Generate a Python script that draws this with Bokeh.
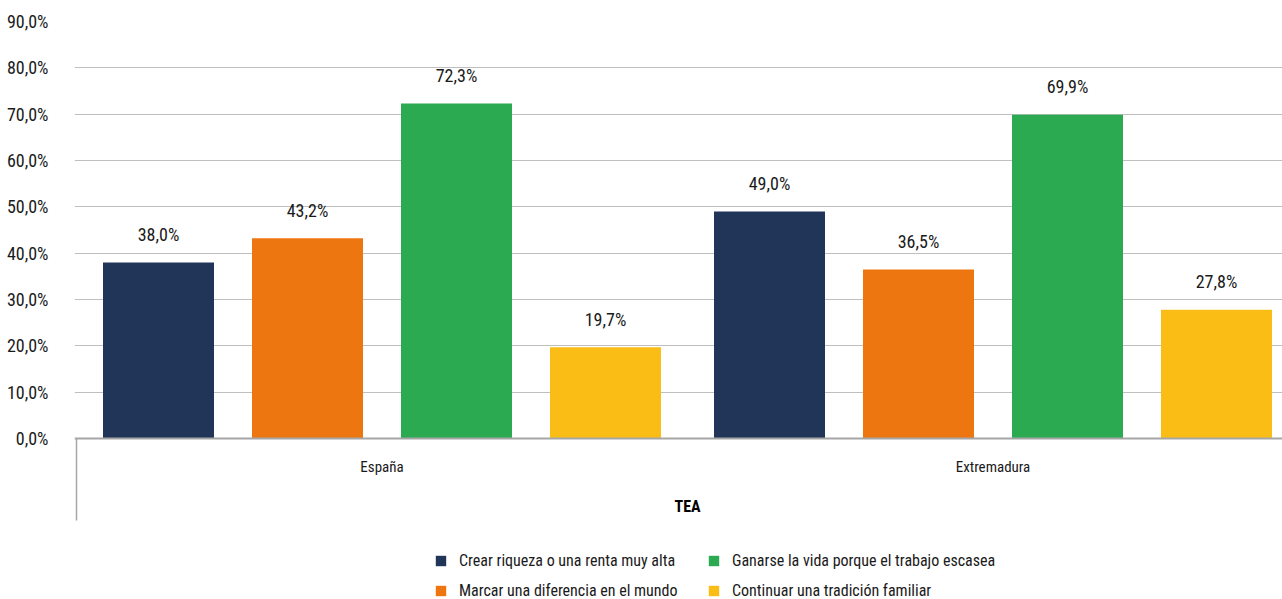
from bokeh.plotting import figure
from bokeh.models import ColumnDataSource, FixedTicker, Span, Legend, LegendItem, Range1d
from bokeh.core.properties import value
from bokeh.embed import file_html
from bokeh.resources import INLINE

# ---------------- data ----------------
regions = ["España", "Extremadura"]
group_label = "TEA"
series_names = [
    "Crear riqueza o una renta muy alta",
    "Marcar una diferencia en el mundo",
    "Ganarse la vida porque el trabajo escasea",
    "Continuar una tradición familiar",
]
crear = [38.0, 49.0]
marcar = [43.2, 36.5]
ganarse = [72.3, 69.9]
continuar = [19.7, 27.8]
y_ticks = [0, 10, 20, 30, 40, 50, 60, 70, 80, 90]
y_tick_labels = ["0,0%", "10,0%", "20,0%", "30,0%", "40,0%", "50,0%",
                 "60,0%", "70,0%", "80,0%", "90,0%"]

# ---------------- style / layout ----------------
colors = ["#203558", "#EE7611", "#2BAA52", "#F9BD16"]
FONT = ("'Noto Sans Condensed', 'Roboto Condensed', 'Liberation Sans Narrow', "
        "'Open Sans Condensed', 'DejaVu Sans Condensed', sans-serif")
W, H = 1282, 599
TOP, LEFT = 21, 74
FRAME_H = H - TOP
FRAME_W = W - LEFT
PXU = 417 / 90.0          # pixels per percentage point
CAT_PX = 611.0            # pixels per category
ZERO_Y = 438              # page row of the 0 % line
x_start = -2 / CAT_PX
x_end = x_start + FRAME_W / CAT_PX
y_end = 90
y_start = y_end - FRAME_H / PXU

bar_w = 111 / CAT_PX
bar_pitch = 149 / CAT_PX
offsets = [(k - 1.5) * bar_pitch for k in range(4)]
label_gap = 28 / PXU

p = figure(width=W, height=H, output_backend="svg", toolbar_location=None,
           x_range=Range1d(x_start, x_end), y_range=Range1d(y_start, y_end),
           min_border_top=TOP, min_border_left=LEFT, min_border_right=0,
           min_border_bottom=0, tools="")
p.outline_line_color = None
p.background_fill_color = "white"
p.border_fill_color = "white"
p.xaxis.visible = False
p.xgrid.visible = False

p.yaxis.ticker = FixedTicker(ticks=y_ticks)
p.yaxis.major_label_overrides = {t: s for t, s in zip(y_ticks, y_tick_labels)}
p.yaxis.axis_line_color = None
p.yaxis.major_tick_line_color = None
p.yaxis.minor_tick_line_color = None
p.yaxis.major_label_standoff = 20
p.yaxis.major_label_text_font = FONT
p.yaxis.major_label_text_font_size = "18px"
p.yaxis.major_label_text_color = "#1a1a1a"

p.ygrid.ticker = FixedTicker(ticks=y_ticks[1:])
p.ygrid.grid_line_color = "#BFBFBF"
p.ygrid.grid_line_width = 1

all_series = [crear, marcar, ganarse, continuar]
renderers = []
for k, vals in enumerate(all_series):
    xs = [i + 0.5 + offsets[k] for i in range(len(regions))]
    src = ColumnDataSource(dict(
        x=xs, top=vals,
        ly=[v + label_gap for v in vals],
        lab=[("%.1f%%" % v).replace(".", ",") for v in vals]))
    r = p.vbar(x="x", top="top", bottom=0, width=bar_w, source=src,
               fill_color=colors[k], line_color=None)
    renderers.append(r)
    p.text(x="x", y="ly", text="lab", source=src, text_align="center",
           text_baseline="middle", text_font=value(FONT),
           text_font_size="18px", text_color="#1a1a1a")

# zero axis line
p.add_layout(Span(location=0, dimension="width", line_color="#A6A6A6", line_width=2))

# category axis decorations
p.segment(x0=[0], y0=[0], x1=[0], y1=[-(520 - ZERO_Y) / PXU],
          line_color="#A6A6A6", line_width=1.5)
p.text(x=[i + 0.5 for i in range(len(regions))], y=[-(466 - ZERO_Y) / PXU] * 2,
       text=regions, text_align="center", text_baseline="middle",
       text_font=value(FONT), text_font_size="15px", text_color="#1a1a1a")
p.text(x=[len(regions) / 2.0], y=[-(506 - ZERO_Y) / PXU], text=[group_label],
       text_align="center", text_baseline="middle", text_font=value(FONT),
       text_font_size="16px", text_font_style="bold", text_color="#000000")

def make_legend(idx, loc):
    leg = Legend(items=[LegendItem(label=series_names[k], renderers=[renderers[k]])
                        for k in idx],
                 location=loc, orientation="vertical")
    leg.label_text_font = FONT
    leg.label_text_font_size = "16px"
    leg.label_text_color = "#1a1a1a"
    leg.glyph_width = 13
    leg.glyph_height = 13
    leg.label_height = 20
    leg.label_standoff = 12
    leg.spacing = 10
    leg.padding = 0
    leg.margin = 0
    leg.border_line_color = None
    leg.background_fill_alpha = 0
    return leg

p.add_layout(make_legend([0, 1], (434 - LEFT, -1)))
p.add_layout(make_legend([2, 3], (707 - LEFT, -1)))

open("out.html", "w").write(file_html(p, INLINE))
